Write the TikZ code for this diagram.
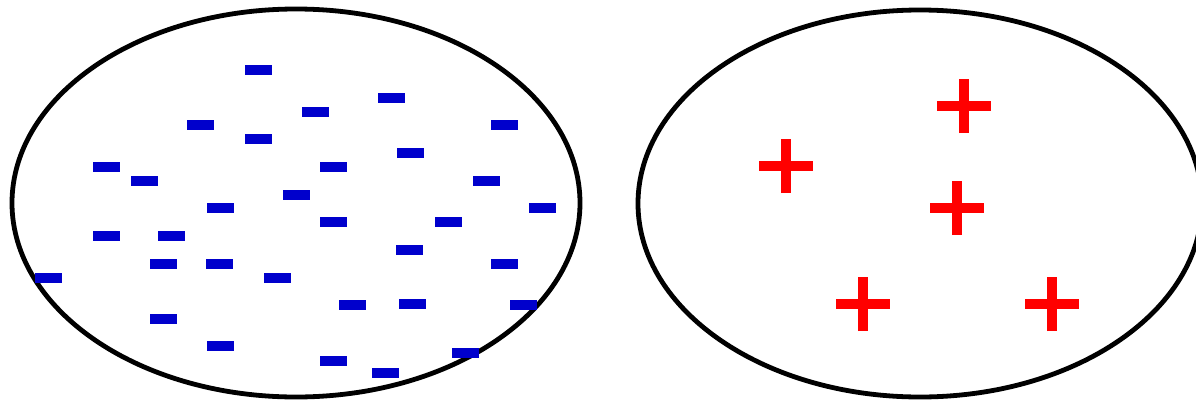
\documentclass[tikz,border=0pt]{standalone}
\definecolor{dashblue}{RGB}{0,0,204}
\tikzset{
  ring/.style={draw=black,line width=4.8pt,ellipse},
  bar/.style={fill=dashblue,inner sep=0pt,outer sep=0pt,minimum width=27pt,minimum height=10pt,rectangle},
  plusmark/.style={draw=red,line width=9.5pt}
}
\usetikzlibrary{shapes.geometric}
\begin{document}
\begin{tikzpicture}[x=1pt,y=-1pt]
\clip (0,0) rectangle (1196,399);
\fill[white] (0,0) rectangle (1196,399);
\draw[ring] (296,203) ellipse [x radius=284, y radius=194];
\draw[ring] (920,203.5) ellipse [x radius=282, y radius=193.5];
\foreach \x/\y [count=\i] in {258/70,391/98,315/112,200/125,504/125,258/139,410/153,106/167,333/167,144/181,486/181,296/195,220/208,542/208,333/222,448/222,106/236,171/236,409/250,163/264,219/264,504/264,48/278,277/278,352/305,412/304,523/305,163/319,220/346,465/353,333/361,385/373}
  \node[bar] (d\i) at (\x,\y) {};
\foreach \x/\y [count=\i] in {964/106,786/166,957/208,863/304,1052/304}{
  \coordinate (p\i) at (\x,\y);
  \draw[plusmark] ([xshift=-27pt]p\i) -- ([xshift=27pt]p\i);
  \draw[plusmark] ([yshift=-27pt]p\i) -- ([yshift=27pt]p\i);
}
\end{tikzpicture}
\end{document}
